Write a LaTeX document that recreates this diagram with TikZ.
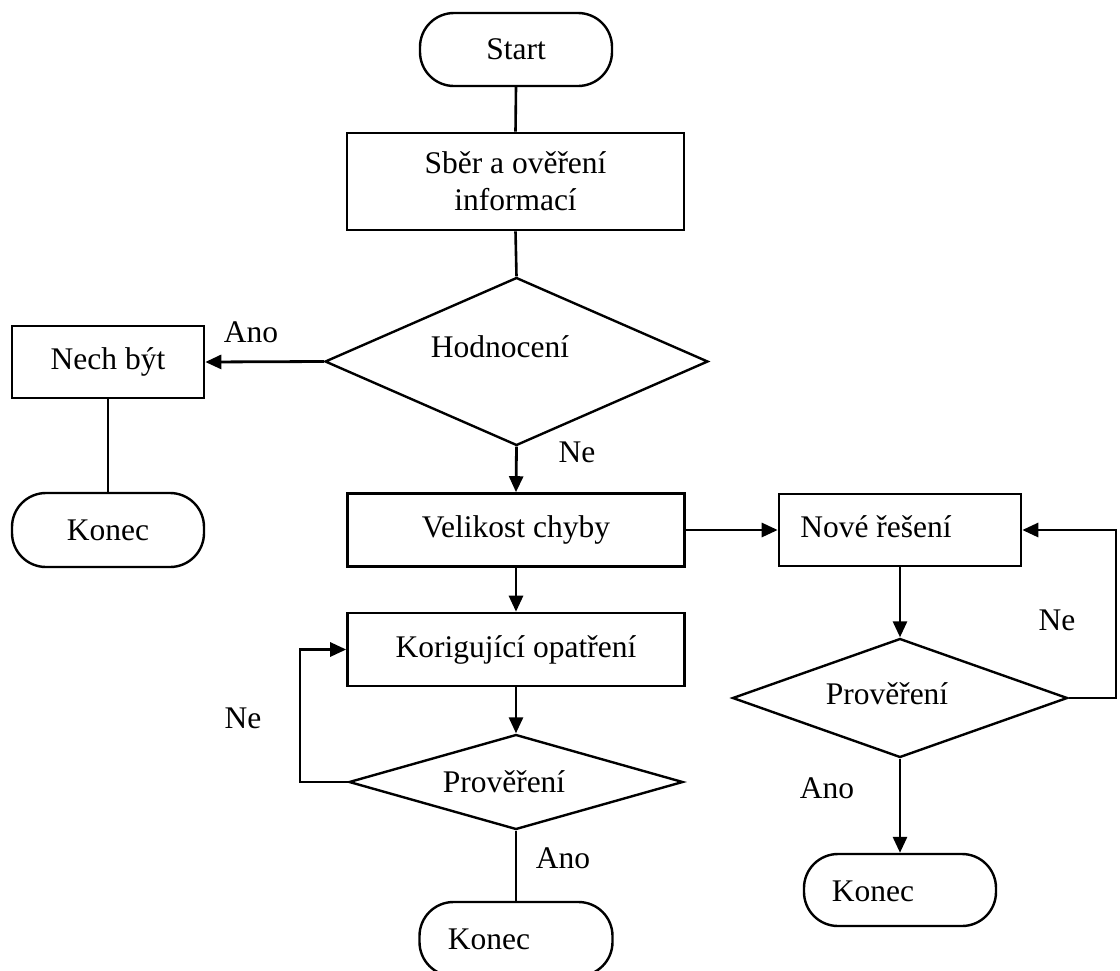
\documentclass[tikz,border=0pt]{standalone}
\usepackage{fontspec}
\setmainfont{Liberation Serif}
\usetikzlibrary{shapes.geometric,arrows.meta}
\begin{document}
\begin{tikzpicture}[x=1pt,y=-1pt,
  every node/.style={font=\fontsize{31.5}{37}\selectfont, inner sep=0pt},
  box/.style={draw, rectangle, line width=2.6pt, align=center},
  term/.style={draw, rectangle, rounded corners=34pt, line width=2.4pt},
  dec/.style={draw, diamond, line width=2.4pt},
  conn/.style={line width=2.6pt},
  arr/.style={line width=2.8pt, -{Triangle[length=16pt,width=14pt]}},
  lbl/.style={}]
\useasboundingbox (0,0) rectangle (1120,970);
\clip (0,0) rectangle (1120,970);

% shapes
\node[term, minimum width=192pt, minimum height=73pt] (start) at (516,49.5) {Start};
\node[box, minimum width=337pt, minimum height=97pt] (sber) at (515.5,181.5) {Sběr a ověření\\informací};
\node[dec, minimum width=383pt, minimum height=168pt] (hod) at (516.5,361.5) {};
\node[box, minimum width=192pt, minimum height=72pt] (nech) at (108,362) {Nech být};
\node[term, minimum width=192pt, minimum height=74pt] (konA) at (108,530) {Konec};
\node[box, minimum width=337pt, minimum height=73pt] (vel) at (516,530) {Velikost chyby};
\node[box, minimum width=242pt, minimum height=72pt] (nove) at (900,530) {};
\node[box, minimum width=337pt, minimum height=73pt] (kor) at (516,649.5) {Korigující opatření};
\node[dec, minimum width=334pt, minimum height=95pt] (proA) at (516,782) {};
\node[term, minimum width=193pt, minimum height=74pt] (konB) at (516,939) {};
\node[dec, minimum width=335pt, minimum height=119pt] (proB) at (900,698) {};
\node[term, minimum width=192pt, minimum height=72pt] (konC) at (900,890) {};

% off-centre texts inside shapes
\node (thod) at (500,347) {Hodnocení};
\node (tnove) at (876,527) {Nové řešení};
\node (tproA) at (504,782) {Prověření};
\node (tproB) at (887,694) {Prověření};
\node (tkonB) at (489,939) {Konec};
\node (tkonC) at (873,891) {Konec};

% connectors
\draw[conn] (start.south) -- (sber.north);
\draw[conn] (sber.south) -- (hod.north);
\draw[arr] (hod.west) -- (nech.east);
\draw[conn] (nech.south) -- (konA.north);
\draw[arr] (hod.south) -- (vel.north);
\draw[arr] (vel.east) -- (nove.west);
\draw[arr] (vel.south) -- (kor.north);
\draw[arr] (kor.south) -- (proA.north);
\coordinate (loopA) at (300,782);
\draw[arr] (proA.west) -- (loopA) |- (kor.west);
\draw[conn] (proA.south) -- (konB.north);
\draw[arr] (nove.south) -- (proB.north);
\coordinate (loopB) at (1116,698);
\draw[arr] (proB.east) -- (loopB) |- (nove.east);
\draw[arr] (proB.south) -- (konC.north);

% labels
\node[lbl] (lAno1) at (251,332) {Ano};
\node[lbl] (lNe1) at (577,452) {Ne};
\node[lbl] (lNe2) at (243,718) {Ne};
\node[lbl] (lAno2) at (563,858) {Ano};
\node[lbl] (lNe3) at (1057,620) {Ne};
\node[lbl] (lAno3) at (827,788) {Ano};
\end{tikzpicture}
\end{document}
